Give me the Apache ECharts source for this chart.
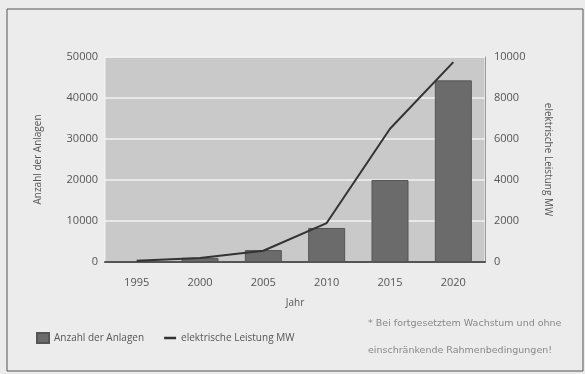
<!DOCTYPE html>
<html>
<head>
<meta charset="utf-8">
<script src="https://cdn.jsdelivr.net/npm/echarts@6/dist/echarts.min.js"></script>
<style>
  html, body { margin: 0; padding: 0; background: #ececec; }
  #box { width: 585px; height: 374px; }
</style>
</head>
<body>
<div id="box"></div>
<script>
// Daten
var jahre = ["1995", "2000", "2005", "2010", "2015", "2020"]
var anzahl = [200, 1000, 2900, 8300, 20000, 44300]
var leistung = [60, 200, 550, 1900, 6500, 9750]

var myChart = echarts.init(document.getElementById("box"))

// Zahlen ohne Tausendertrenner
function plain(v) {
    return String(v)
}

var option = {
    backgroundColor: "#ececec",
    textStyle: { fontFamily: "Open Sans", color: "#555" },
    grid: {
        show: true,
        left: 105,
        right: 100,
        top: 57,
        bottom: 112,
        backgroundColor: "#c9c9c9",
        borderColor: "#f4f4f4",
        borderWidth: 1
    },
    // Legende
    legend: {
        left: 31,
        top: 327,
        itemGap: 20,
        itemWidth: 12,
        itemHeight: 10,
        itemTextGap: 6,
        symbolKeepAspect: true,
        textStyle: { fontSize: 10, color: "#555", fontFamily: "Open Sans" },
        data: [
            { name: "Anzahl der Anlagen", icon: "rect" },
            { name: "elektrische Leistung MW", icon: "path://M0,0H12V2.5H0Z" }
        ]
    },
    xAxis: {
        type: "category",
        data: jahre,
        name: "Jahr",
        nameLocation: "middle",
        nameGap: 36,
        nameTextStyle: { fontSize: 10, color: "#555" },
        axisLine: { show: true, lineStyle: { color: "#555", width: 2 } },
        axisTick: { show: false },
        axisLabel: { fontSize: 11, color: "#555", margin: 15 }
    },
    yAxis: [
        {
            type: "value",
            min: 0,
            max: 50000,
            interval: 10000,
            name: "Anzahl der Anlagen",
            nameLocation: "middle",
            nameGap: 62,
            nameTextStyle: { fontSize: 10, color: "#555" },
            axisLine: { show: false },
            axisTick: { show: false },
            axisLabel: { fontSize: 11, color: "#555", margin: 7, formatter: plain },
            splitLine: { lineStyle: { color: "#f2f2f2", width: 1.5 } }
        },
        {
            type: "value",
            min: 0,
            max: 10000,
            interval: 2000,
            name: "elektrische Leistung MW",
            nameLocation: "middle",
            nameGap: 58,
            nameRotate: -90,
            nameTextStyle: { fontSize: 10, color: "#555" },
            axisLine: { show: true, lineStyle: { color: "#999", width: 1 } },
            axisTick: { show: false },
            axisLabel: { fontSize: 11, color: "#555", margin: 9, formatter: plain },
            splitLine: { show: false }
        }
    ],
    // Rahmen und Fußnote
    graphic: [
        {
            type: "rect",
            shape: { x: 7, y: 9, width: 576, height: 362 },
            style: { fill: "none", stroke: "#555", lineWidth: 1 },
            silent: true
        },
        {
            type: "text",
            left: 368,
            top: 319,
            style: { text: "* Bei fortgesetztem Wachstum und ohne", fontSize: 9.5, fill: "#888", fontFamily: "DejaVu Sans" }
        },
        {
            type: "text",
            left: 368,
            top: 346,
            style: { text: "einschränkende Rahmenbedingungen!", fontSize: 9.5, fill: "#888", fontFamily: "DejaVu Sans" }
        }
    ],
    series: [
        {
            name: "Anzahl der Anlagen",
            type: "bar",
            data: anzahl,
            barWidth: 37,
            itemStyle: { color: "#6b6b6b", borderColor: "#555", borderWidth: 1 }
        },
        {
            name: "elektrische Leistung MW",
            type: "line",
            yAxisIndex: 1,
            data: leistung,
            symbol: "none",
            lineStyle: { color: "#333", width: 2 },
            itemStyle: { color: "#333" }
        }
    ]
}

myChart.setOption(option)
</script>
</body>
</html>
